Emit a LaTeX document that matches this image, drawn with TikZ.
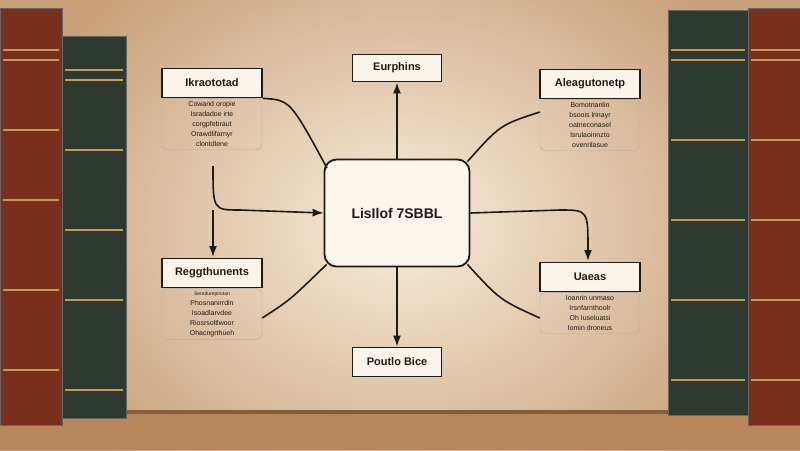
\documentclass[tikz,border=0pt]{standalone}
\usepackage{fontspec}
\setmainfont{Liberation Sans}
\usetikzlibrary{arrows.meta}
\definecolor{bgw}{HTML}{F8EDDC}
\definecolor{bgd}{HTML}{C9A07A}
\definecolor{shelf}{HTML}{B8865A}
\definecolor{bred}{HTML}{7A2E1C}
\definecolor{bgrn}{HTML}{2E3A30}
\definecolor{gold}{HTML}{C79A5A}
\definecolor{ink}{HTML}{1E1A16}
\begin{document}
\begin{tikzpicture}[x=1pt,y=-1pt,
  lbl/.style={draw=ink,line width=1.8pt,fill=bgw!60,minimum width=100pt,minimum height=29pt,font=\bfseries\fontsize{11}{13}\selectfont,text=ink,inner sep=0pt},
  desc/.style={draw=ink!35,rounded corners=6pt,minimum width=100pt,align=center,font=\fontsize{7}{10}\selectfont,text=ink,inner sep=3pt},
  con/.style={draw=ink,line width=1.6pt},
  arr/.style={con,-{Latex[length=11pt,width=8pt]}},
  book/.style={draw=black!60,line width=0.5pt}]
\useasboundingbox (0,0) rectangle (800,450);
\shade[inner color=bgw,outer color=bgd] (0,-100) rectangle (800,550);
\fill[shelf] (0,412) rectangle (800,450);
\fill[shelf!70!black] (0,410) rectangle (800,414);
% books
\fill[bred,book] (0,8) rectangle (62,425);
\fill[bgrn,book] (62,36) rectangle (126,418);
\fill[bgrn,book] (668,10) rectangle (748,415);
\fill[bred,book] (748,8) rectangle (800,425);
\foreach \y in {50,60,130,200,290,370}{\draw[gold,line width=1.2pt] (3,\y) -- (59,\y);}
\foreach \y in {70,80,150,230,300,390}{\draw[gold,line width=1.2pt] (65,\y) -- (123,\y);}
\foreach \y in {50,60,140,220,300,380}{\draw[gold,line width=1.2pt] (671,\y) -- (745,\y);}
\foreach \y in {50,60,140,220,300,380}{\draw[gold,line width=1.2pt] (751,\y) -- (800,\y);}
% center
\node[draw=ink,line width=1.8pt,rounded corners=12pt,fill=bgw!50!white,minimum width=145pt,minimum height=107pt,font=\bfseries\fontsize{14}{16}\selectfont,text=ink] (c) at (397,213) {LisIlof 7SBBL};
\node[lbl,minimum width=89pt,minimum height=27pt] (top) at (397,68) {Eurphins};
\node[lbl,minimum width=89pt,minimum height=29pt] (bot) at (397,362) {Poutlo Bice};
\node[lbl] (tl) at (212,83) {Ikraototad};
\node[desc,anchor=north] (tld) at (tl.south) {Cowand oropie\\Isradadoe irte\\corgpfebraut\\Orawdlifarnyr\\clontdlene};
\node[lbl] (tr) at (590,84) {Aleagutonetp};
\node[desc,anchor=north] (trd) at (tr.south) {Bomotnanlin\\bsoois lrinayr\\oatneconasel\\lsrulaoinnzto\\ovenrilasue};
\node[lbl] (bl) at (212,273) {Reggthunents};
\node[desc,anchor=north] (bld) at (bl.south) {{\fontsize{5}{6}\selectfont Seredurepirotan}\\Phosnanirrdin\\Isoadlarvdee\\Riosrsoltlwoor\\Ohacngrthueh};
\node[lbl] (br) at (590,277) {Uaeas};
\node[desc,anchor=north] (brd) at (br.south) {Ioanrin unmaso\\Irsnfarnthoolr\\Oh Iuseluatsi\\Iomin droneus};
\coordinate (lj) at (213,210);
\coordinate (rj) at (588,210);
% connectors
\draw[arr] (c.north) -- (top.south);
\draw[arr] (c.south) -- (bot.north);
\draw[con] (tl.south east) .. controls (290,100) .. (327,168);
\draw[con] ([shift={(-3,3)}]c.north east) .. controls (500,125) .. (trd.north west |- 0,112);
\draw[arr] (213,166) .. controls (213,210) .. (240,210) -- (c.west);
\draw[arr] (lj) .. controls (213,225) .. (213,257);
\draw[con] ([shift={(3,-3)}]c.south west) .. controls (290,300) .. (bld.east |- 0,318);
\draw[arr] (c.east) -- (560,210) .. controls (588,210) .. (588,261);
\draw[con] ([shift={(-3,-3)}]c.south east) .. controls (500,300) .. (brd.west |- 0,318);
\end{tikzpicture}
\end{document}
